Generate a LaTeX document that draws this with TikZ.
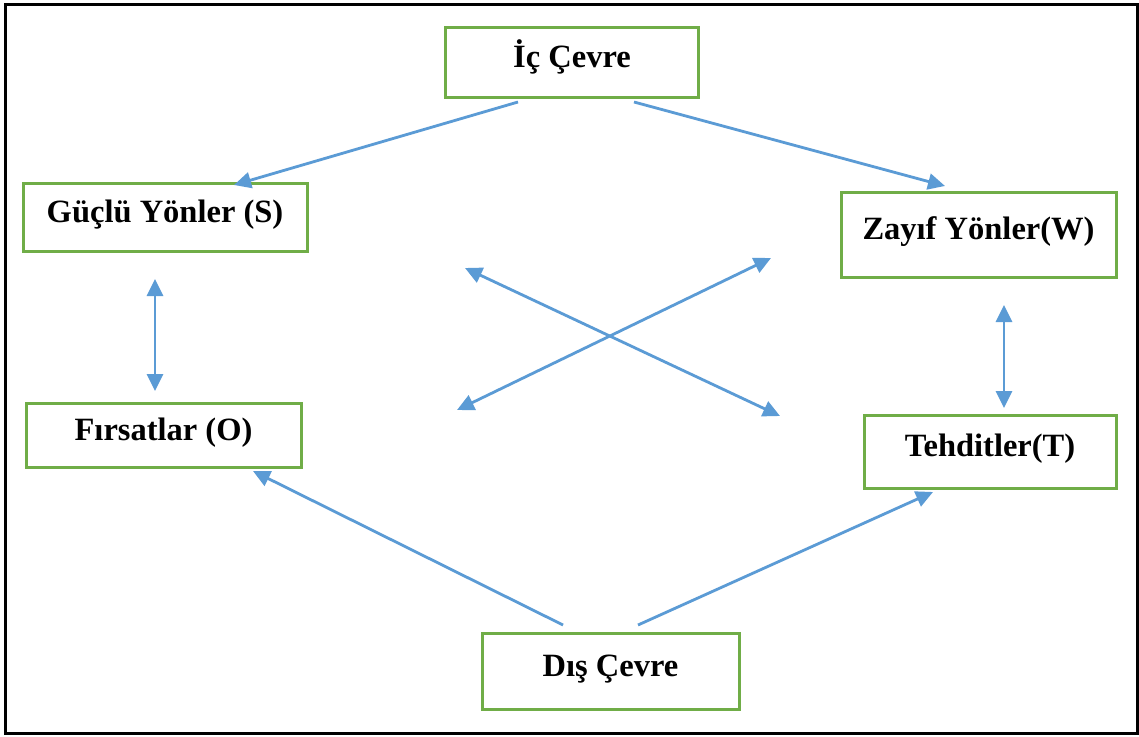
\documentclass[tikz,border=0pt]{standalone}
\usepackage{fontspec}
\setmainfont{Liberation Serif}
\usetikzlibrary{arrows.meta}
\definecolor{boxgreen}{HTML}{70AD47}
\definecolor{arrowblue}{HTML}{5B9BD5}
\begin{document}
\begin{tikzpicture}[x=1pt,y=-1pt,
  swotbox/.style={draw=boxgreen, line width=3pt, fill=white, inner sep=0pt,
    text height=20pt, text depth=10pt,
    font=\fontsize{32.5}{38}\selectfont\bfseries},
  link/.style={draw=arrowblue, line width=2.8pt, -{Triangle[length=17pt,width=16pt]}},
  biglink/.style={draw=arrowblue, line width=2.8pt,
    {Triangle[length=17pt,width=16pt]}-{Triangle[length=17pt,width=16pt]}}]
  % page and outer frame
  \fill[white] (0,0) rectangle (1139,736);
  \useasboundingbox (0,0) rectangle (1139,736);
  \draw[line width=3pt] (5.5,4) rectangle (1137,733);

  % boxes
  \node[swotbox, minimum width=253pt, minimum height=70pt] (ic) at (572,62) {İç Çevre};
  \node[swotbox, minimum width=284pt, minimum height=68pt] (gs) at (165,217) {Güçlü Yönler (S)};
  \node[swotbox, minimum width=275pt, minimum height=85pt] (zw) at (978.5,234.5) {Zayıf Yönler(W)};
  \node[swotbox, minimum width=275pt, minimum height=64pt] (fo) at (163.5,435) {Fırsatlar (O)};
  \node[swotbox, minimum width=252pt, minimum height=73pt] (tt) at (990,451.5) {Tehditler(T)};
  \node[swotbox, minimum width=257pt, minimum height=76pt] (dc) at (610.5,671) {Dış Çevre};

  % arrow end points
  \coordinate (icl) at (518,102);
  \coordinate (icr) at (634,102);
  \coordinate (gsin) at (234,185);
  \coordinate (zwin) at (945,186);
  \coordinate (sotop) at (155,279);
  \coordinate (sobot) at (155,391);
  \coordinate (wttop) at (1004,305);
  \coordinate (wtbot) at (1004,408);
  \coordinate (xa1) at (465,268);
  \coordinate (xa2) at (780,416);
  \coordinate (xb1) at (457,410);
  \coordinate (xb2) at (771,258);
  \coordinate (dcl) at (563,625);
  \coordinate (dcr) at (638,625);
  \coordinate (foin) at (253,471);
  \coordinate (ttin) at (933,492);

  % connectors
  \draw[link] (icl) -- (gsin);
  \draw[link] (icr) -- (zwin);
  \draw[biglink] (sotop) -- (sobot);
  \draw[biglink] (wttop) -- (wtbot);
  \draw[biglink] (xa1) -- (xa2);
  \draw[biglink] (xb1) -- (xb2);
  \draw[link] (dcl) -- (foin);
  \draw[link] (dcr) -- (ttin);
\end{tikzpicture}
\end{document}
